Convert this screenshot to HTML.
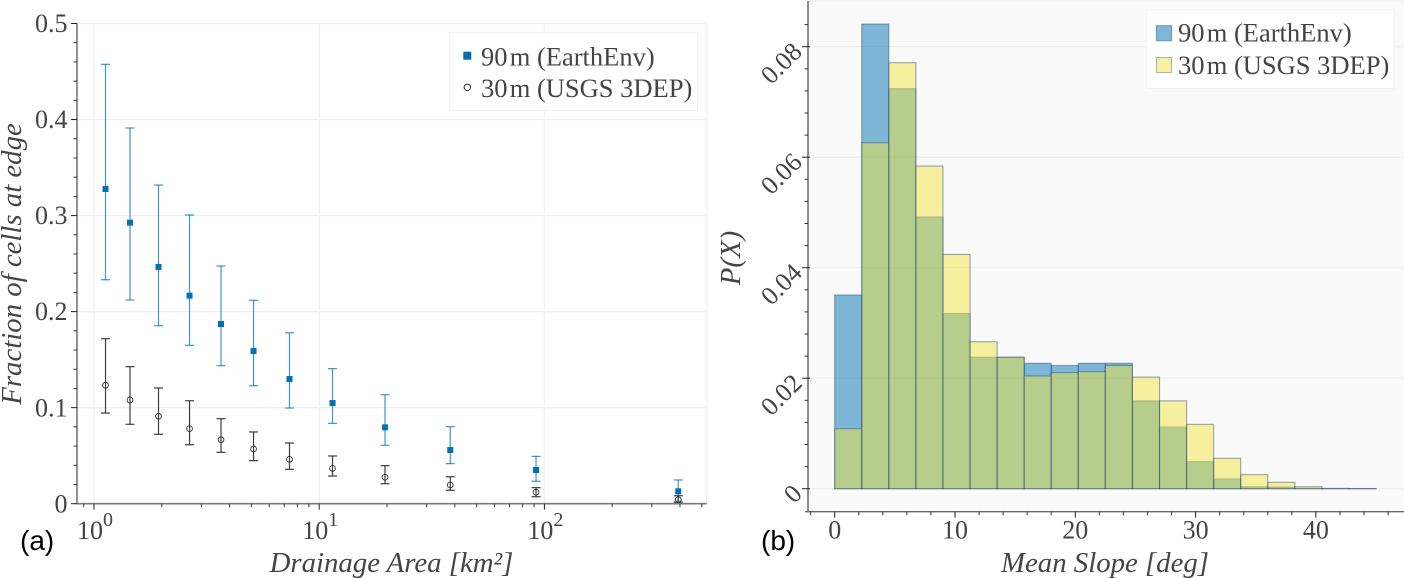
<!DOCTYPE html>
<html>
<head>
<meta charset="utf-8">
<title>Edge fraction and mean slope</title>
<style>
html,body{margin:0;padding:0;background:#fff;width:1404px;height:578px;overflow:hidden}
svg{display:block}
text{font-family:"Liberation Serif",serif;fill:#444}
.tick{font-size:26px}
.title{font-size:28.8px;font-style:italic}
.leg{font-size:26.5px}
.panel{font-family:"Liberation Sans",sans-serif;font-size:28px;fill:#000}
</style>
</head>
<body>
<svg id="figure" width="1404" height="578" viewBox="0 0 1404 578" xmlns="http://www.w3.org/2000/svg"></svg>
<script>
const areaValues = [1.125, 1.445, 1.934, 2.656, 3.664, 5.11, 7.38, 11.46, 19.6, 38.2, 91.8, 393];
const edge90 = [0.3277, 0.2926, 0.2465, 0.2166, 0.1871, 0.159, 0.1298, 0.1048, 0.0795, 0.0559, 0.0351, 0.0129];
const edge90Upper = [0.4575, 0.3912, 0.3318, 0.3006, 0.2475, 0.2118, 0.178, 0.1406, 0.1135, 0.0802, 0.0493, 0.0247];
const edge90Lower = [0.2332, 0.2121, 0.1853, 0.1649, 0.1437, 0.1229, 0.0996, 0.0837, 0.0608, 0.0417, 0.0233, 0.0025];
const edge30 = [0.1233, 0.108, 0.091, 0.0781, 0.0667, 0.057, 0.0462, 0.0368, 0.0275, 0.0195, 0.0119, 0.0042];
const edge30Upper = [0.1718, 0.1427, 0.1205, 0.1072, 0.0885, 0.0747, 0.0632, 0.0497, 0.0396, 0.0281, 0.0167, 0.0083];
const edge30Lower = [0.0944, 0.0827, 0.0723, 0.0614, 0.0535, 0.0448, 0.0358, 0.0288, 0.0208, 0.014, 0.0073, 0.001];
const edgeYTicks = [0, 0.1, 0.2, 0.3, 0.4, 0.5];
const edgeYLabels = ["0", "0.1", "0.2", "0.3", "0.4", "0.5"];
const edgeYMinor = [0.02, 0.04, 0.06, 0.08, 0.12, 0.14, 0.16, 0.18, 0.22, 0.24, 0.26, 0.28, 0.32, 0.34, 0.36, 0.38, 0.42, 0.44, 0.46, 0.48];
const areaTicks = [1, 10, 100];
const areaExponents = ["0", "1", "2"];
const areaMinor = [0.9, 2, 3, 4, 5, 6, 7, 8, 9, 20, 30, 40, 50, 60, 70, 80, 90, 200, 300, 400, 500];

const slopeBinWidth = 2.25;
const slopeBinStarts = [0, 2.25, 4.5, 6.75, 9, 11.25, 13.5, 15.75, 18, 20.25, 22.5, 24.75, 27, 29.25, 31.5, 33.75, 36, 38.25, 40.5, 42.75];
const density90 = [0.03506, 0.0841, 0.0724, 0.0492, 0.0317, 0.0238, 0.0238, 0.0227, 0.0223, 0.0227, 0.0227, 0.0159, 0.01117, 0.0049, 0.00176, 0.00036, 0.0003, 0.00007, 0.00005, 0.00003];
const density30 = [0.01086, 0.0626, 0.0771, 0.0584, 0.0424, 0.0266, 0.0238, 0.0204, 0.021, 0.0212, 0.0223, 0.0202, 0.0159, 0.01165, 0.0055, 0.00254, 0.00116, 0.00036, 0.00004, 0.00002];
const slopeYTicks = [0, 0.02, 0.04, 0.06, 0.08];
const slopeYLabels = ["0", "0.02", "0.04", "0.06", "0.08"];
const slopeYMinor = [0.004, 0.008, 0.012, 0.016, 0.024, 0.028, 0.032, 0.036, 0.044, 0.048, 0.052, 0.056, 0.064, 0.068, 0.072, 0.076, 0.084];
const slopeXTicks = [0, 10, 20, 30, 40];
const slopeXLabels = ["0", "10", "20", "30", "40"];
const slopeXMinor = [-2, 2, 4, 6, 8, 12, 14, 16, 18, 22, 24, 26, 28, 32, 34, 36, 38, 42, 44, 46];

const svg = document.getElementById('figure');
const NS = 'http://www.w3.org/2000/svg';
function mk(tag, attrs, parent, txt) {
  const el = document.createElementNS(NS, tag);
  for (const k in attrs) el.setAttribute(k, attrs[k]);
  if (txt !== undefined) el.textContent = txt;
  parent.appendChild(el);
  return el;
}
function group(name, parent) {
  const g = mk('g', {}, parent);
  
  
  return g;
}
function named(el, name) {
  
  
  return el;
}

/* ---------- panel (a) ---------- */
const A = {left: 77, right: 706.7, top: 23.5, bottom: 503.7};
const ax = v => 94 + 225.2 * Math.log10(v);
const ay = v => 503.7 - 960.4 * v;
const panelA = group('edge-fraction-chart', svg);

const gridA = group('grid-lines', panelA);
edgeYTicks.forEach(t => {
  if (t === 0) return;
  named(mk('line', {x1: A.left, x2: A.right, y1: ay(t), y2: ay(t), stroke: '#ededed', 'stroke-width': 1.2}, gridA), 'y-grid-line');
});
areaTicks.forEach(t => {
  named(mk('line', {x1: ax(t), x2: ax(t), y1: A.top, y2: A.bottom, stroke: '#f0f0f0', 'stroke-width': 1.4}, gridA), 'x-grid-line');
});
named(mk('line', {x1: A.right, x2: A.right, y1: A.top, y2: A.bottom, stroke: '#f0f0f0', 'stroke-width': 1.4}, gridA), 'plot-right-border');

function errorSeries(name, vals, up, lo, col, op) {
  const g = group(name, panelA);
  vals.forEach((v, i) => {
    const x = ax(areaValues[i]);
    const e = group('error-bar', g);
    const st = {stroke: col, 'stroke-width': 1.2, 'stroke-opacity': op};
    mk('line', Object.assign({x1: x, x2: x, y1: ay(up[i]), y2: ay(lo[i])}, st), e);
    mk('line', Object.assign({x1: x - 4.5, x2: x + 4.5, y1: ay(up[i]), y2: ay(up[i])}, st), e);
    mk('line', Object.assign({x1: x - 4.5, x2: x + 4.5, y1: ay(lo[i]), y2: ay(lo[i])}, st), e);
  });
  return g;
}
const series90 = errorSeries('series-90m', edge90, edge90Upper, edge90Lower, '#0072b2', 0.75);
edge90.forEach((v, i) => {
  const m = mk('rect', {x: ax(areaValues[i]) - 3, y: ay(v) - 3, width: 6, height: 6, fill: '#0072b2'}, series90);
  
  
});
const series30 = errorSeries('series-30m', edge30, edge30Upper, edge30Lower, '#333', 0.95);
edge30.forEach((v, i) => {
  const m = mk('circle', {cx: ax(areaValues[i]), cy: ay(v), r: 2.9, fill: 'none', stroke: '#333', 'stroke-width': 0.9}, series30);
  
  
});

const yAxisA = group('y-axis', panelA);
named(mk('line', {x1: A.left, x2: A.left, y1: A.top, y2: A.bottom + 0.7, stroke: '#777', 'stroke-width': 1.6}, yAxisA), 'y-axis-line');
edgeYMinor.forEach(t => {
  named(mk('line', {x1: A.left - 3.5, x2: A.left, y1: ay(t), y2: ay(t), stroke: '#333', 'stroke-width': 1}, yAxisA), 'y-minor-tick');
});
edgeYTicks.forEach((t, i) => {
  named(mk('line', {x1: A.left - 6, x2: A.left, y1: ay(t), y2: ay(t), stroke: '#222', 'stroke-width': 1}, yAxisA), 'y-major-tick');
  named(mk('text', {x: 67.5, y: ay(t) + 8.6, 'text-anchor': 'end', class: 'tick'}, yAxisA, edgeYLabels[i]), 'y-tick-label');
});
const xAxisA = group('x-axis', panelA);
named(mk('line', {x1: A.left, x2: A.right, y1: A.bottom, y2: A.bottom, stroke: '#777', 'stroke-width': 1.6}, xAxisA), 'x-axis-line');
areaMinor.forEach(t => {
  named(mk('line', {x1: ax(t), x2: ax(t), y1: A.bottom, y2: A.bottom + 3.5, stroke: '#333', 'stroke-width': 1}, xAxisA), 'x-minor-tick');
});
areaTicks.forEach((t, i) => {
  named(mk('line', {x1: ax(t), x2: ax(t), y1: A.bottom, y2: A.bottom + 6, stroke: '#222', 'stroke-width': 1}, xAxisA), 'x-major-tick');
  const lab = mk('text', {x: ax(t) - 17, y: 539, class: 'tick'}, xAxisA);
  
  
  mk('tspan', {}, lab, '10');
  mk('tspan', {dy: -13, 'font-size': '20px'}, lab, areaExponents[i]);
});
named(mk('text', {x: 391.5, y: 572, 'text-anchor': 'middle', class: 'title'}, panelA, 'Drainage Area [km²]'), 'x-axis-title');
named(mk('text', {x: 0, y: 0, 'text-anchor': 'middle', class: 'title', transform: 'translate(21,264) rotate(-90)'}, panelA, 'Fraction of cells at edge'), 'y-axis-title');
named(mk('text', {x: 20, y: 550, class: 'panel'}, panelA, '(a)'), 'panel-label-a');

const legA = group('legend', panelA);
named(mk('rect', {x: 449.5, y: 32.5, width: 248, height: 78, fill: '#fff', stroke: '#f2f2f2', 'stroke-width': 1}, legA), 'legend-box');
named(mk('rect', {x: 463.3, y: 51.7, width: 8, height: 8, fill: '#0072b2'}, legA), 'legend-marker-90m');
named(mk('circle', {cx: 467.3, cy: 87.3, r: 3.2, fill: 'none', stroke: '#333', 'stroke-width': 1}, legA), 'legend-marker-30m');
named(mk('text', {x: 481, y: 65.7, class: 'leg'}, legA, '90\u200am (EarthEnv)'), 'legend-label-90m');
named(mk('text', {x: 481, y: 97, class: 'leg'}, legA, '30\u200am (USGS 3DEP)'), 'legend-label-30m');

/* ---------- panel (b) ---------- */
const B = {left: 808, right: 1404, top: 1, bottom: 511.7};
const bx = v => 834.7 + 12.03 * v;
const by = v => 488.7 - 5525 * v;
const panelB = group('mean-slope-chart', svg);
named(mk('rect', {x: B.left, y: 0, width: B.right - B.left, height: 2, fill: '#f3f3f3'}, panelB), 'plot-top-band');
named(mk('rect', {x: B.left, y: 2, width: B.right - B.left, height: B.bottom - 2, fill: '#fafafa'}, panelB), 'plot-background');

const gridB = group('grid-lines', panelB);
slopeYTicks.forEach(t => {
  named(mk('line', {x1: B.left, x2: B.right, y1: by(t), y2: by(t), stroke: '#ebebeb', 'stroke-width': 1.2}, gridB), 'y-grid-line');
});

function bars(name, vals, col) {
  const g = group(name, panelB);
  vals.forEach((v, i) => {
    const x0 = bx(slopeBinStarts[i]);
    const x1 = bx(slopeBinStarts[i] + slopeBinWidth);
    const r = mk('rect', {x: x0, y: by(v), width: x1 - x0, height: by(0) - by(v), fill: col, 'fill-opacity': 0.5, stroke: '#2f4f80', 'stroke-opacity': 0.5, 'stroke-width': 1.1}, g);
    
    
  });
}
bars('histogram-90m', density90, '#0072b2');
bars('histogram-30m', density30, '#f0e442');

const yAxisB = group('y-axis', panelB);
named(mk('line', {x1: B.left, x2: B.left, y1: B.top, y2: B.bottom + 0.6, stroke: '#444', 'stroke-width': 1.2}, yAxisB), 'y-axis-line');
slopeYMinor.forEach(t => {
  named(mk('line', {x1: B.left - 3.5, x2: B.left, y1: by(t), y2: by(t), stroke: '#333', 'stroke-width': 1}, yAxisB), 'y-minor-tick');
});
slopeYTicks.forEach((t, i) => {
  named(mk('line', {x1: B.left, x2: B.left + 2, y1: by(t), y2: by(t), stroke: '#222', 'stroke-width': 1}, yAxisB), 'y-major-tick');
  named(mk('line', {x1: B.left - 6, x2: B.left, y1: by(t), y2: by(t), stroke: '#222', 'stroke-width': 1}, yAxisB), 'y-major-tick');
  const cy = by(t) + 0.5;
  named(mk('text', {x: 797.4, y: cy + 8.5, 'text-anchor': 'end', class: 'tick', transform: 'rotate(-45 797.4 ' + cy + ')'}, yAxisB, slopeYLabels[i]), 'y-tick-label');
});
const xAxisB = group('x-axis', panelB);
named(mk('line', {x1: B.left - 3, x2: B.right, y1: B.bottom, y2: B.bottom, stroke: '#666', 'stroke-width': 1.3}, xAxisB), 'x-axis-line');
slopeXMinor.forEach(t => {
  named(mk('line', {x1: bx(t), x2: bx(t), y1: B.bottom, y2: B.bottom + 3.5, stroke: '#333', 'stroke-width': 1}, xAxisB), 'x-minor-tick');
});
slopeXTicks.forEach((t, i) => {
  named(mk('line', {x1: bx(t), x2: bx(t), y1: B.bottom, y2: B.bottom + 6, stroke: '#222', 'stroke-width': 1}, xAxisB), 'x-major-tick');
  named(mk('text', {x: bx(t), y: 538.7, 'text-anchor': 'middle', class: 'tick'}, xAxisB, slopeXLabels[i]), 'x-tick-label');
});
named(mk('text', {x: 1105, y: 572, 'text-anchor': 'middle', class: 'title'}, panelB, 'Mean Slope [deg]'), 'x-axis-title');
named(mk('text', {x: 0, y: 0, 'text-anchor': 'middle', class: 'title', transform: 'translate(740,258) rotate(-90)'}, panelB, 'P(X)'), 'y-axis-title');
named(mk('text', {x: 761, y: 550, class: 'panel'}, panelB, '(b)'), 'panel-label-b');

const legB = group('legend', panelB);
named(mk('rect', {x: 1146.5, y: 9.5, width: 247.5, height: 79, fill: '#fff', stroke: '#f3f3f3', 'stroke-width': 1}, legB), 'legend-box');
named(mk('rect', {x: 1156.5, y: 25.7, width: 15, height: 15, fill: '#7db8da', stroke: '#6f95b8', 'stroke-width': 1}, legB), 'legend-swatch-90m');
named(mk('rect', {x: 1156.5, y: 57.5, width: 15, height: 15, fill: '#f7f2a0', stroke: '#a9b0b8', 'stroke-width': 1}, legB), 'legend-swatch-30m');
named(mk('text', {x: 1178, y: 41.7, class: 'leg'}, legB, '90\u200am (EarthEnv)'), 'legend-label-90m');
named(mk('text', {x: 1178, y: 74, class: 'leg'}, legB, '30\u200am (USGS 3DEP)'), 'legend-label-30m');
</script>
</body>
</html>
